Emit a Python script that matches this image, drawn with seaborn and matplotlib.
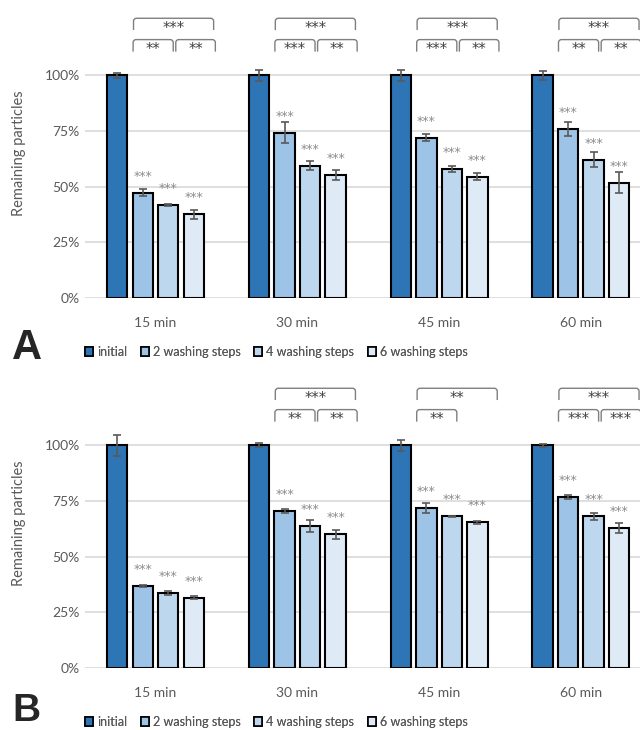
import matplotlib
matplotlib.use("Agg")
import matplotlib.pyplot as plt
from matplotlib.patches import Patch, PathPatch
from matplotlib.path import Path
from matplotlib.ticker import PercentFormatter
import pandas as pd
import seaborn as sns

sns.set_style("white")
plt.rcParams["font.family"] = ["Lato", "DejaVu Sans"]

times = ["15 min", "30 min", "45 min", "60 min"]
steps = ["initial", "2 washing steps", "4 washing steps", "6 washing steps"]
colors = ["#2E75B6", "#9DC3E6", "#BDD7EE", "#DEEBF7"]

# Panel A: remaining particles (%) per time point
a_initial = [100, 100, 100, 100]
a_wash2 = [47.2, 74.2, 72.0, 75.8]
a_wash4 = [41.8, 59.4, 57.8, 62.1]
a_wash6 = [37.6, 55.2, 54.4, 51.7]
a_err_initial = [1.3, 2.4, 2.6, 2.2]
a_err_wash2 = [1.5, 4.7, 1.7, 3.1]
a_err_wash4 = [0.5, 2.0, 1.4, 3.4]
a_err_wash6 = [2.0, 2.4, 1.6, 4.8]

# Panel B: remaining particles (%) per time point
b_initial = [100, 100, 100, 100]
b_wash2 = [36.6, 70.5, 71.8, 76.8]
b_wash4 = [33.7, 63.9, 68.1, 68.1]
b_wash6 = [31.4, 60.0, 65.4, 62.7]
b_err_initial = [4.9, 0.9, 2.6, 0.5]
b_err_wash2 = [0.4, 1.0, 2.1, 1.0]
b_err_wash4 = [1.0, 2.7, 0.3, 1.6]
b_err_wash6 = [0.7, 1.9, 0.7, 2.2]

# Significance of each washing step vs. initial
a_bar_sig = ["***", "***", "***"]
b_bar_sig = ["***", "***", "***"]

# Pairwise brackets: top (2 vs 6), left (2 vs 4), right (4 vs 6)
a_top = ["***", "***", "***", "***"]
a_left = ["**", "***", "***", "**"]
a_right = ["**", "**", "**", "**"]
b_top = [None, "***", "**", "***"]
b_left = [None, "**", "**", "***"]
b_right = [None, "**", None, "***"]

GRAY_TXT = "#595959"
STAR_FONT = "DejaVu Sans"
W, H = 640, 730
PX_PER_CAT = 141.8
PX_PER_PCT = 2.223


def bracket(ax, x0, x1, y, drop, label, ybase):
    # bracket with slightly rounded corners (radius ~3 px)
    rx, ry = 3 / PX_PER_CAT, 3 / PX_PER_PCT
    verts = [(x0, y - drop), (x0, y - ry), (x0, y), (x0 + rx, y),
             (x1 - rx, y), (x1, y), (x1, y - ry), (x1, y - drop)]
    codes = [Path.MOVETO, Path.LINETO, Path.CURVE3, Path.CURVE3,
             Path.LINETO, Path.CURVE3, Path.CURVE3, Path.LINETO]
    ax.add_patch(PathPatch(Path(verts, codes), fill=False, edgecolor="#7F7F7F",
                           lw=1.0, clip_on=False))
    ax.text((x0 + x1) / 2, ybase, label, ha="center", va="baseline",
            fontsize=10.5, color="#404040", family=STAR_FONT, clip_on=False)


def panel(ax, series, errs, bar_sig, top, left, right):
    df = pd.DataFrame({
        "time": times * len(steps),
        "step": [s for s in steps for _ in times],
        "value": [v for ser in series for v in ser],
    })
    sns.barplot(data=df, x="time", y="value", hue="step", order=times,
                hue_order=steps, palette=colors, saturation=1, width=0.72,
                gap=0.2, edgecolor="black", linewidth=1.5, errorbar=None,
                legend=False, ax=ax)
    for k, (cont, err) in enumerate(zip(ax.containers, errs)):
        xs = [b.get_x() + b.get_width() / 2 for b in cont]
        hs = [b.get_height() for b in cont]
        ax.errorbar(xs, hs, yerr=err, fmt="none", ecolor=GRAY_TXT,
                    elinewidth=1.2, capsize=3, capthick=1.2, zorder=5)
        if k > 0 and bar_sig[k - 1]:
            for x, h in zip(xs, hs):
                ax.text(x, h + 5.8, bar_sig[k - 1], ha="center",
                        va="baseline", fontsize=9, color="#8C8C8C",
                        family=STAR_FONT)
    for i in range(len(times)):
        if top[i]:
            bracket(ax, i - 0.155, i + 0.41, 125.7, 5.3, top[i], 119.0)
        if left[i]:
            bracket(ax, i - 0.158, i + 0.125, 116.1, 5.4, left[i], 109.6)
        if right[i]:
            bracket(ax, i + 0.143, i + 0.422, 116.1, 5.4, right[i], 109.6)

    ax.set_xlim(-0.5, 3.5)
    ax.set_ylim(0, 130)
    ax.set_yticks([0, 25, 50, 75, 100])
    ax.yaxis.set_major_formatter(PercentFormatter(100, decimals=0))
    ax.yaxis.grid(True, color="#D9D9D9", lw=1.2)
    ax.set_axisbelow(True)
    for s in ax.spines.values():
        s.set_visible(False)
    ax.tick_params(axis="both", length=0, labelsize=10, colors=GRAY_TXT)
    ax.tick_params(axis="x", pad=14)
    ax.set_xlabel("")
    ax.set_ylabel("Remaining particles", fontsize=10.5, color=GRAY_TXT,
                  labelpad=13)


fig = plt.figure(figsize=(W / 100, H / 100), dpi=100)
left = 84.6 / W
width = 4 * PX_PER_CAT / W
height = 130 * PX_PER_PCT / H
axA = fig.add_axes([left, (H - 297.7) / H, width, height])
axB = fig.add_axes([left, (H - 667.7) / H, width, height])

panel(axA, [a_initial, a_wash2, a_wash4, a_wash6],
      [a_err_initial, a_err_wash2, a_err_wash4, a_err_wash6],
      a_bar_sig, a_top, a_left, a_right)
panel(axB, [b_initial, b_wash2, b_wash4, b_wash6],
      [b_err_initial, b_err_wash2, b_err_wash4, b_err_wash6],
      b_bar_sig, b_top, b_left, b_right)

handles = [Patch(facecolor=c, edgecolor="black", linewidth=1.2) for c in colors]
for ycen in (352, 722):
    leg = fig.legend(handles, steps, loc="center left",
                     bbox_to_anchor=(85 / W, 1 - ycen / H), ncol=4,
                     frameon=False, handlelength=0.65, handleheight=0.65,
                     handletextpad=0.3, columnspacing=1.1, fontsize=9,
                     borderaxespad=0, borderpad=0)
    for t in leg.get_texts():
        t.set_color(GRAY_TXT)
    fig.add_artist(leg)

fig.text(12 / W, 1 - 348 / H, "A", fontsize=30, fontweight="bold",
         family="Liberation Sans", va="center", ha="left")
fig.text(12 / W, 1 - 729 / H, "B", fontsize=28, fontweight="bold",
         family="Liberation Sans", va="bottom", ha="left")

fig.savefig("out.png", dpi=100)
